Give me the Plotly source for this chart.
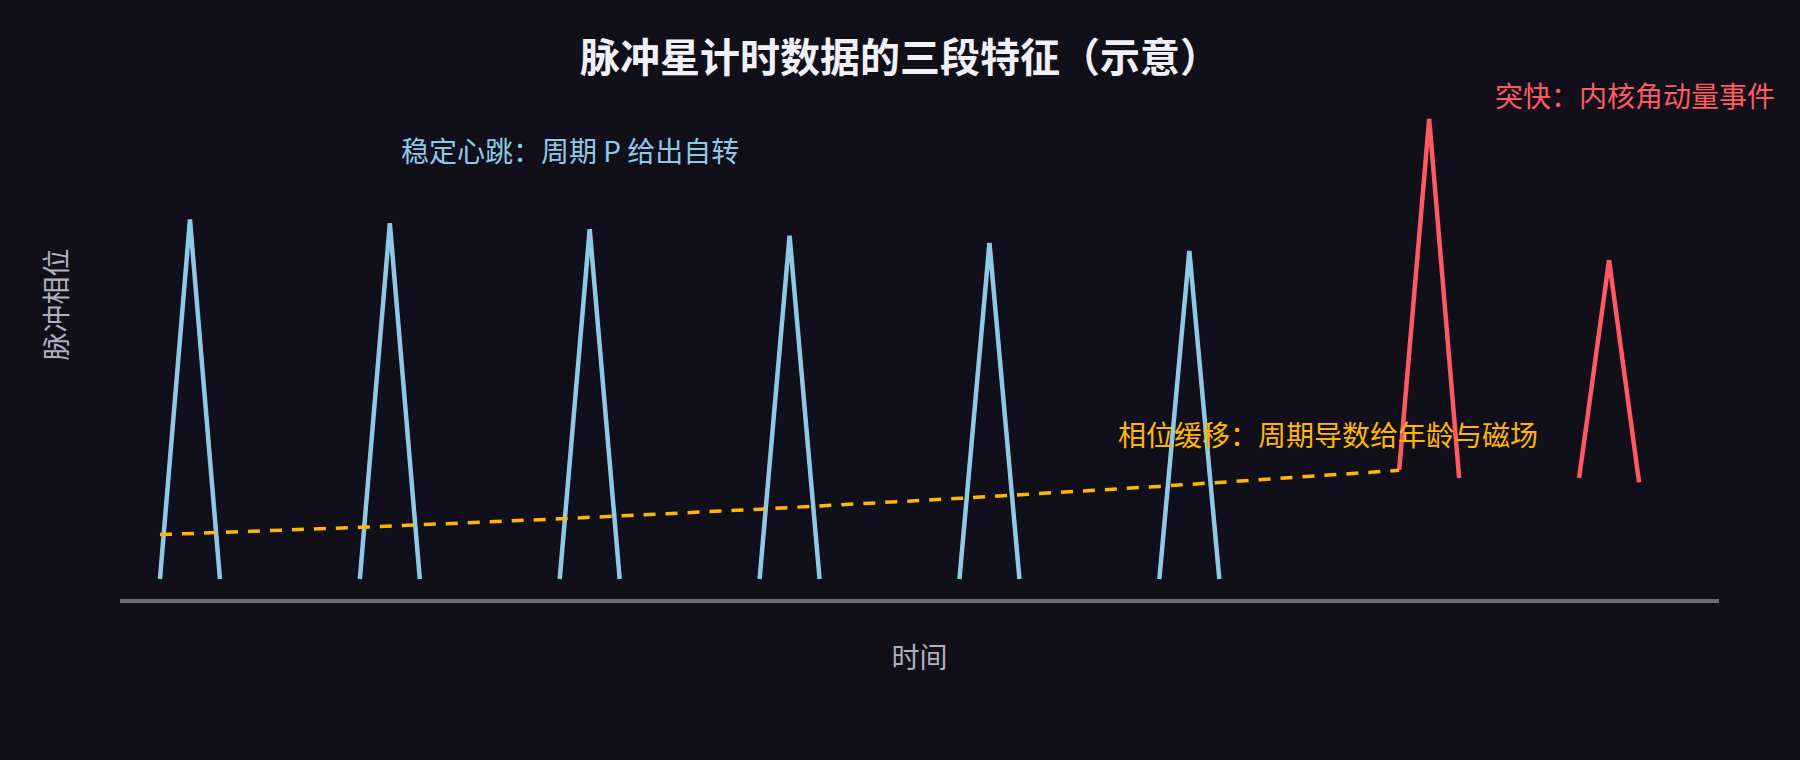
import plotly.graph_objects as go

# 稳定脉冲：峰值时间与高度
steady_peak_t = [0.35, 1.35, 2.35, 3.35, 4.35, 5.35]
steady_peak_h = [1.0, 0.99, 0.973, 0.955, 0.935, 0.913]
steady_half_width = 0.15
steady_base = 0.0

# 突快后的脉冲：起点、峰、终点
glitch_t = [[6.40, 6.55, 6.70], [7.30, 7.45, 7.60]]
glitch_y = [[0.304, 1.28, 0.281], [0.281, 0.887, 0.269]]

# 相位缓移（虚线）
drift_t = [0.2, 1.2, 2.2, 3.2, 4.2, 5.2, 6.4]
drift_y = [0.1235, 0.1438, 0.1675, 0.1943, 0.2244, 0.2577, 0.3023]

BG = "#11101a"
BLUE = "#8ecae6"
RED = "#ff5a5f"
ORANGE = "#ffb703"
FONT = "Noto Sans CJK SC"

sx, sy = [], []
for t, h in zip(steady_peak_t, steady_peak_h):
    sx += [t - steady_half_width, t, t + steady_half_width, None]
    sy += [steady_base, h, steady_base, None]

gx, gy = [], []
for ts, ys in zip(glitch_t, glitch_y):
    gx += ts + [None]
    gy += ys + [None]

fig = go.Figure()
fig.add_trace(go.Scatter(x=sx, y=sy, mode="lines",
                         line=dict(color=BLUE, width=4.5), hoverinfo="skip"))
fig.add_trace(go.Scatter(x=gx, y=gy, mode="lines",
                         line=dict(color=RED, width=4.5), hoverinfo="skip"))
fig.add_trace(go.Scatter(x=drift_t, y=drift_y, mode="lines",
                         line=dict(color=ORANGE, width=3.5, dash="12px,10px"),
                         hoverinfo="skip"))

fig.add_annotation(x=2.25, y=1.194, text="稳定心跳：周期 P 给出自转", showarrow=False,
                   font=dict(color=BLUE, size=28, family=FONT))
fig.add_annotation(x=7.58, y=1.347, text="突快：内核角动量事件", showarrow=False,
                   font=dict(color=RED, size=28, family=FONT))
fig.add_annotation(x=6.045, y=0.404, text="相位缓移：周期导数给年龄与磁场", showarrow=False,
                   font=dict(color=ORANGE, size=28, family=FONT))

fig.update_layout(
    width=1800, height=760,
    paper_bgcolor=BG, plot_bgcolor=BG,
    showlegend=False,
    margin=dict(l=120, r=81, t=10, b=161),
    font=dict(family=FONT, color="#b0aec0", size=28),
    title=dict(text="<b>脉冲星计时数据的三段特征（示意）</b>",
               x=0.5, xanchor="center", y=1 - 58 / 760, yanchor="middle",
               font=dict(size=40, color="#f2f0f7", family=FONT)),
)
fig.update_xaxes(range=[0, 8], showgrid=False, zeroline=False, showticklabels=False,
                 ticks="", showline=True, linecolor="#6e6b78", linewidth=4,
                 title=dict(text="时间", standoff=47, font=dict(size=28, color="#b0aec0")))
fig.update_yaxes(range=[-0.0556, 1.583], showgrid=False, zeroline=False,
                 showticklabels=False, ticks="", showline=False,
                 title=dict(text="脉冲相位", standoff=43, font=dict(size=28, color="#b0aec0")))

fig.write_html("out.html", config={"displayModeBar": False},
               post_script="document.body.style.margin='0';")
